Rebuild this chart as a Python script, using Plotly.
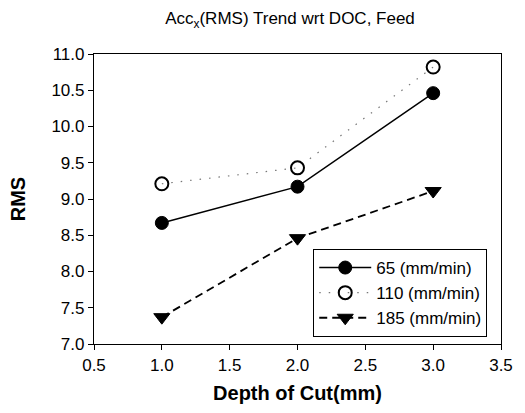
import plotly.graph_objects as go

# Depth of cut (mm) and RMS of x-acceleration for three feed rates
depth_of_cut = [1.0, 2.0, 3.0]
rms_feed_65 = [8.67, 9.17, 10.46]
rms_feed_110 = [9.21, 9.43, 10.82]
rms_feed_185 = [7.37, 8.46, 9.11]

series_names = ["65 (mm/min)", "110 (mm/min)", "185 (mm/min)"]

x_ticks = [0.5, 1.0, 1.5, 2.0, 2.5, 3.0, 3.5]
y_ticks = [7.0, 7.5, 8.0, 8.5, 9.0, 9.5, 10.0, 10.5, 11.0]

FONT = "Liberation Sans, Arial, sans-serif"

fig = go.Figure()

fig.add_trace(go.Scatter(
    x=depth_of_cut, y=rms_feed_65, name=series_names[0],
    mode="lines+markers",
    line=dict(color="black", width=1.5, dash="solid"),
    marker=dict(symbol="circle", size=13, color="black",
                line=dict(color="black", width=1)),
))
fig.add_trace(go.Scatter(
    x=depth_of_cut, y=rms_feed_110, name=series_names[1],
    mode="lines+markers",
    line=dict(color="#777777", width=1.2, dash="1.5px,8px"),
    marker=dict(symbol="circle-open", size=13, color="black",
                line=dict(color="black", width=2)),
))
fig.add_trace(go.Scatter(
    x=depth_of_cut, y=rms_feed_185, name=series_names[2],
    mode="lines+markers",
    line=dict(color="black", width=1.8, dash="8px,5px"),
    marker=dict(symbol="triangle-down", size=14, color="black",
                line=dict(color="black", width=1)),
))

axis_common = dict(
    showgrid=False, zeroline=False,
    showline=True, linecolor="black", linewidth=1.2, mirror=True,
    ticks="outside", ticklen=5, tickcolor="black", tickwidth=1,
    tickfont=dict(family=FONT, size=17, color="black"),
    tickformat=".1f",
)

fig.update_layout(
    width=525, height=413,
    margin=dict(l=94, r=17, t=54, b=69),
    paper_bgcolor="white", plot_bgcolor="white",
    title=dict(
        text="Acc<sub>x</sub>(RMS) Trend wrt DOC, Feed",
        font=dict(family=FONT, size=17, color="black"),
        x=290 / 525, xref="container", xanchor="center",
        y=1 - 18 / 413, yref="container", yanchor="middle",
    ),
    xaxis=dict(
        range=[0.5, 3.5], tickvals=x_ticks,
        title=dict(text="<b>Depth of Cut(mm)</b>",
                   font=dict(family=FONT, size=20, color="black"),
                   standoff=12),
        **axis_common,
    ),
    yaxis=dict(
        range=[7.0, 11.0], tickvals=y_ticks,
        title=dict(text="<b>RMS</b>",
                   font=dict(family=FONT, size=20, color="black"),
                   standoff=20),
        **axis_common,
    ),
    legend=dict(
        x=(317 - 94) / 414, y=(344 - 249) / 290,
        xanchor="left", yanchor="top",
        bgcolor="white", bordercolor="black", borderwidth=1,
        font=dict(family=FONT, size=17, color="black"),
        itemwidth=52, tracegroupgap=0,
    ),
    showlegend=True,
)

fig.write_html("out.html")
